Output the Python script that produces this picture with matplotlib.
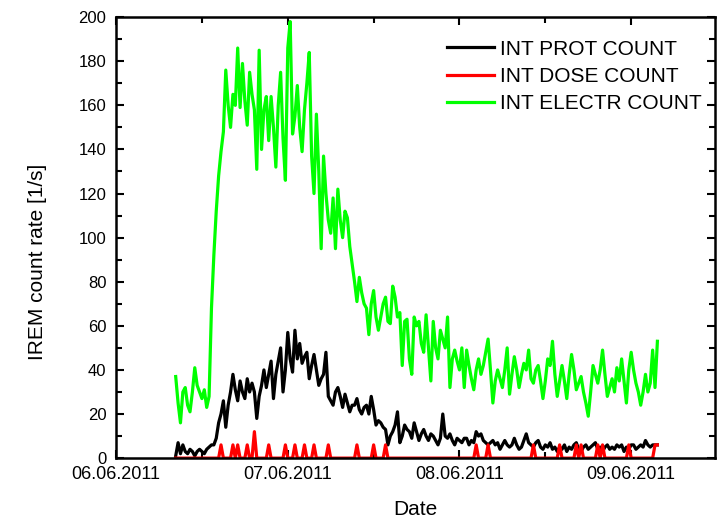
import numpy as np
import pandas as pd
import matplotlib
matplotlib.use('Agg')
import matplotlib.pyplot as plt
import matplotlib.dates as mdates
from matplotlib.ticker import MultipleLocator

plt.rcParams['font.family'] = ['Liberation Sans', 'DejaVu Sans']

# IREM samples, one every 20 min starting 06.06.2011 08:20
start = '2011-06-06 08:20'
step = '20min'

prot = [1, 7, 2, 6, 3, 2, 4, 3, 1, 3,
        4, 3, 2, 4, 5, 6, 6, 9, 16, 20,
        26, 14, 24, 30, 38, 31, 26, 35, 30, 27,
        36, 30, 34, 30, 18, 28, 33, 40, 32, 38,
        44, 27, 38, 44, 50, 30, 40, 57, 45, 39,
        58, 45, 52, 43, 46, 48, 36, 42, 47, 40,
        33, 36, 38, 48, 28, 26, 24, 30, 32, 28,
        23, 29, 25, 21, 24, 24, 27, 22, 20, 23,
        24, 20, 28, 22, 15, 17, 16, 14, 13, 6,
        10, 12, 15, 21, 7, 10, 15, 13, 12, 9,
        16, 12, 8, 11, 13, 10, 8, 11, 10, 8,
        6, 9, 20, 10, 9, 11, 8, 6, 9, 8,
        7, 9, 9, 6, 8, 7, 12, 10, 11, 8,
        7, 6, 7, 8, 6, 7, 4, 6, 8, 6,
        5, 6, 9, 6, 4, 5, 8, 11, 7, 6,
        5, 7, 8, 5, 4, 6, 5, 7, 4, 5,
        3, 5, 4, 6, 3, 5, 4, 6, 7, 4,
        3, 5, 6, 4, 5, 6, 7, 4, 5, 3,
        5, 6, 4, 5, 4, 6, 5, 6, 3, 5,
        4, 6, 6, 4, 5, 6, 5, 8, 6, 5,
        6, 6, 6]

dose = [0, 0, 0, 0, 0, 0, 0, 0, 0, 0,
        0, 0, 0, 0, 0, 0, 0, 0, 0, 6,
        0, 0, 0, 0, 6, 0, 6, 0, 0, 0,
        6, 0, 0, 12, 0, 0, 0, 0, 0, 6,
        0, 0, 0, 0, 0, 0, 6, 0, 0, 0,
        6, 0, 0, 0, 6, 0, 0, 0, 6, 0,
        0, 0, 0, 0, 6, 0, 0, 0, 0, 0,
        0, 0, 0, 0, 0, 0, 6, 0, 0, 0,
        0, 0, 0, 6, 0, 0, 0, 0, 6, 0,
        0, 0, 0, 0, 0, 0, 0, 0, 0, 0,
        0, 0, 0, 0, 0, 0, 0, 0, 0, 0,
        0, 0, 0, 0, 0, 0, 0, 0, 0, 0,
        0, 0, 0, 0, 0, 0, 6, 0, 0, 0,
        0, 6, 0, 0, 0, 0, 0, 0, 0, 0,
        0, 0, 0, 0, 0, 0, 0, 0, 0, 0,
        6, 0, 0, 0, 0, 0, 0, 0, 0, 0,
        0, 6, 0, 0, 0, 0, 0, 0, 6, 0,
        6, 0, 0, 0, 0, 0, 0, 6, 0, 6,
        0, 0, 0, 0, 0, 0, 0, 0, 0, 0,
        6, 0, 0, 0, 0, 0, 0, 0, 0, 0,
        0, 6, 6]

electr = [37, 25, 16, 30, 32, 24, 21, 30, 41, 33,
          30, 27, 31, 23, 28, 68, 92, 112, 128, 139,
          148, 176, 160, 150, 165, 160, 186, 159, 179, 162,
          151, 175, 165, 158, 131, 185, 140, 158, 164, 144,
          164, 150, 132, 160, 175, 145, 126, 186, 198, 147,
          155, 169, 150, 139, 158, 170, 184, 137, 120, 156,
          130, 95, 137, 120, 108, 102, 118, 95, 122, 108,
          100, 112, 109, 96, 88, 80, 71, 82, 75, 70,
          68, 56, 70, 76, 64, 58, 64, 70, 73, 62,
          61, 78, 73, 64, 66, 42, 62, 63, 45, 38,
          64, 60, 62, 52, 48, 65, 50, 35, 62, 50,
          45, 58, 54, 50, 64, 32, 45, 49, 44, 40,
          50, 32, 49, 42, 36, 31, 40, 45, 38, 42,
          48, 54, 40, 25, 35, 40, 36, 32, 40, 50,
          29, 38, 46, 40, 32, 38, 43, 40, 49, 36,
          34, 40, 42, 35, 27, 35, 45, 42, 53, 38,
          28, 35, 42, 35, 27, 38, 47, 40, 31, 34,
          37, 30, 25, 19, 30, 42, 38, 34, 40, 49,
          38, 28, 32, 36, 30, 41, 35, 45, 35, 25,
          40, 48, 40, 34, 30, 24, 30, 38, 30, 34,
          49, 32, 53]

times = pd.date_range(start, periods=len(prot), freq=step)

fig = plt.figure(figsize=(7.21, 5.20), dpi=100)
ax = fig.add_axes([0.161, 0.119, 0.831, 0.848])

ax.plot(times, prot, color='black', lw=2.3, label='INT PROT COUNT')
ax.plot(times, dose, color='red', lw=2.3, label='INT DOSE COUNT')
ax.plot(times, electr, color='#00ff00', lw=2.3, label='INT ELECTR COUNT')

ax.set_xlim(pd.Timestamp('2011-06-06 00:00'), pd.Timestamp('2011-06-09 11:45'))
ax.set_ylim(0, 200)

ax.xaxis.set_major_locator(mdates.DayLocator())
ax.xaxis.set_minor_locator(mdates.HourLocator(byhour=12))
ax.xaxis.set_major_formatter(mdates.DateFormatter('%d.%m.%Y'))
ax.yaxis.set_major_locator(MultipleLocator(20))
ax.yaxis.set_minor_locator(MultipleLocator(10))

ax.tick_params(which='both', direction='in', top=True, right=True, width=1.5)
ax.tick_params(which='major', length=6)
ax.tick_params(which='minor', length=4)
ax.tick_params(axis='y', pad=7, labelsize=12)
ax.tick_params(axis='x', pad=6, labelsize=13)
for s in ax.spines.values():
    s.set_linewidth(1.8)

ax.set_xlabel('Date', fontsize=15, labelpad=12)
ax.set_ylabel('IREM count rate [1/s]', fontsize=15)
ax.yaxis.set_label_coords(-0.115, 0.444)

ax.legend(loc='upper right', bbox_to_anchor=(0.978, 0.949), frameon=False, fontsize=15,
          handlelength=2.25, handletextpad=0.3, labelspacing=0.4,
          borderpad=0, borderaxespad=0)

fig.savefig('out.png', dpi=100)
